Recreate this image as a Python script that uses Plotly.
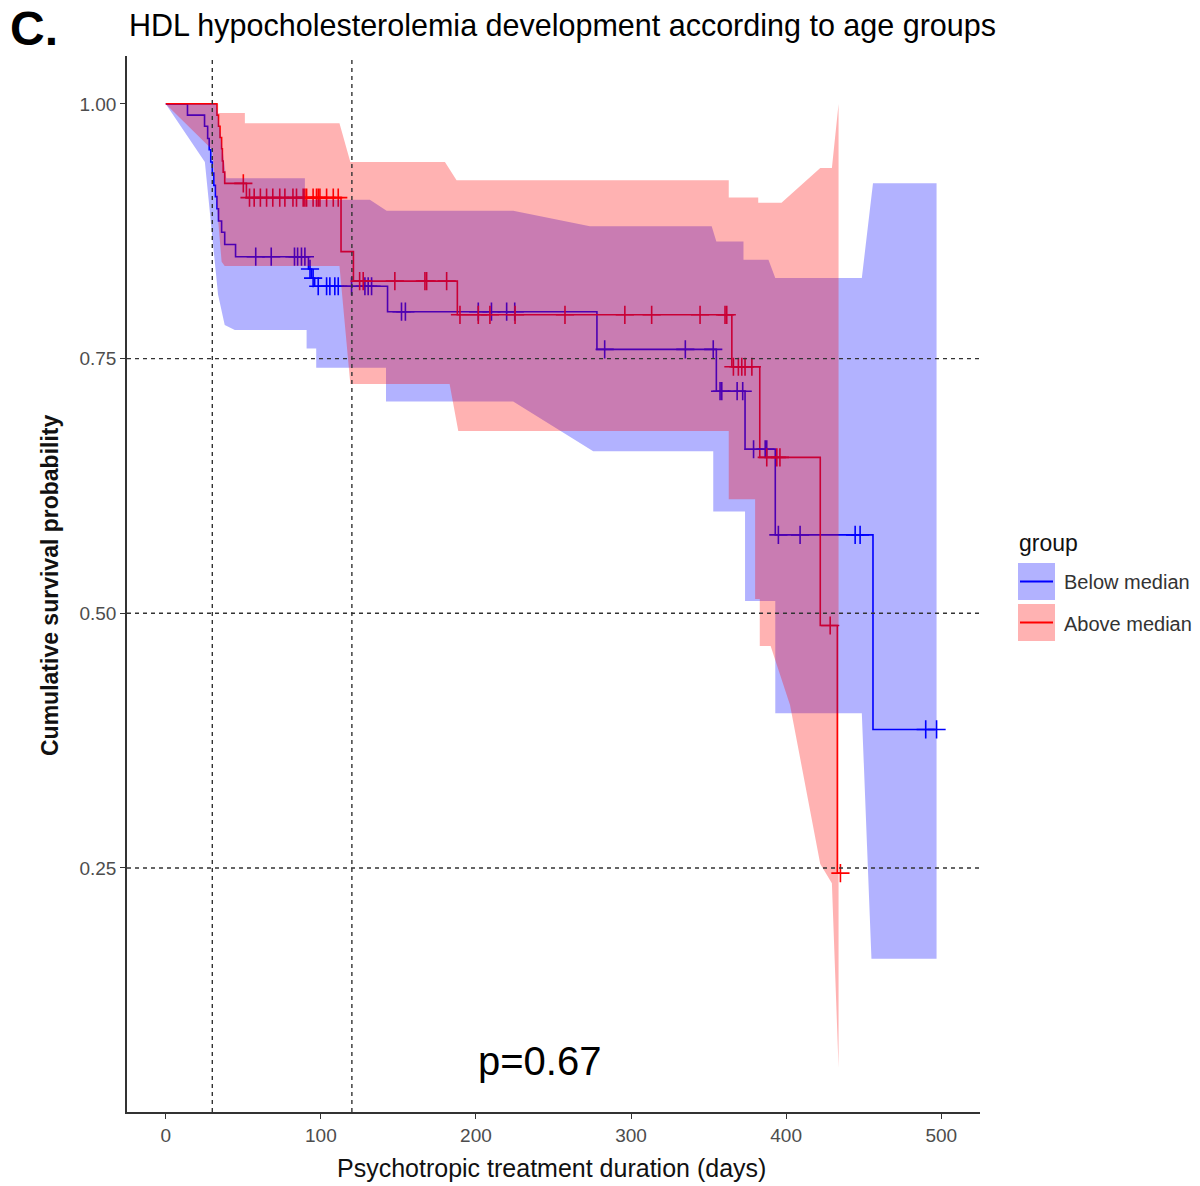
import plotly.graph_objects as go

# ---------------- data ----------------
# Below median (blue) Kaplan-Meier steps
below_t = [0, 14, 25, 27, 28, 29, 30, 31, 32, 33, 34, 36, 38, 45, 92, 94, 96,
           143, 278, 355, 373.5, 393, 456]
below_s = [1.0, 0.989, 0.978, 0.966, 0.955, 0.943, 0.932, 0.920, 0.909, 0.897,
           0.885, 0.874, 0.862, 0.850, 0.838, 0.829, 0.821, 0.796, 0.759, 0.718,
           0.661, 0.577, 0.386]
below_end = 497
below_cens = [58, 68, 83, 85, 87.5, 89.7, 93, 95, 98.3, 103.7, 105.8, 109, 111.2,
              119.8, 128.4, 130.5, 132.7, 152, 154.5, 201.5, 210, 219.8, 225, 283,
              335, 353, 357.4, 358.5, 368.4, 372, 379, 386.5, 387.5, 395, 409,
              444.5, 447.7, 490, 497]

# Above median (red) Kaplan-Meier steps
above_t = [0, 33, 34, 35, 36, 36.5, 37, 38, 52, 113, 121, 188, 365, 383, 422, 433]
above_s = [1.0, 0.989, 0.978, 0.967, 0.956, 0.944, 0.933, 0.922, 0.908, 0.855,
           0.826, 0.793, 0.742, 0.653, 0.488, 0.245]
above_end = 435
above_cens = [50, 54, 57, 61, 65, 69, 73.5, 76.8, 82, 84.3, 88.6, 89.7, 90.8, 95,
              97.2, 98.3, 99.4, 103.7, 108, 111.2, 125, 127.3, 147.7, 167.1, 168.2,
              181.1, 189.7, 201.5, 209, 225.2, 257.4, 296, 313.3, 344.5, 360.6,
              361.7, 366, 369.2, 371.4, 373.5, 377.9, 387.5, 394, 396, 428.4, 435]

# confidence band outlines (time, probability)
below_up_t = [0, 32.7, 39, 89.7, 89.7, 131.6, 142.4, 224, 273.5, 352, 355, 372.5,
              372.5, 388.6, 393, 448.8, 456, 497]
below_up_v = [1.0, 1.0, 0.927, 0.927, 0.906, 0.906, 0.895, 0.895, 0.880, 0.880,
              0.865, 0.865, 0.847, 0.847, 0.829, 0.829, 0.922, 0.922]
below_lo_t = [0, 25.2, 33.7, 38, 44.5, 90.8, 90.8, 97, 97, 142, 142, 224, 275.6,
              353, 353, 373.5, 373.5, 393, 393, 448.8, 455, 497]
below_lo_v = [1.0, 0.943, 0.813, 0.783, 0.778, 0.778, 0.760, 0.760, 0.741, 0.741,
              0.708, 0.708, 0.659, 0.659, 0.600, 0.600, 0.512, 0.512, 0.402, 0.402,
              0.161, 0.161]

above_up_t = [0, 33.8, 33.8, 51, 51, 112, 119, 180, 187.5, 363, 363, 382, 382, 397,
              422, 429.5, 433.8]
above_up_v = [1.0, 1.0, 0.991, 0.991, 0.981, 0.981, 0.943, 0.943, 0.925, 0.925,
              0.908, 0.908, 0.903, 0.903, 0.937, 0.937, 1.0]
above_lo_t = [0, 30, 36, 38, 112, 119, 183, 188.6, 363, 363, 380, 380, 383, 383,
              390, 402.5, 422, 429.5, 433.8]
above_lo_v = [1.0, 0.955, 0.845, 0.841, 0.841, 0.725, 0.725, 0.679, 0.679, 0.612,
              0.612, 0.514, 0.514, 0.468, 0.468, 0.41, 0.254, 0.235, 0.054]

x_ticks = [0, 100, 200, 300, 400, 500]
y_ticks = [0.25, 0.50, 0.75, 1.00]
y_ticklabels = ["0.25", "0.50", "0.75", "1.00"]
ref_h = [0.25, 0.50, 0.75]
ref_v = [30, 120]
groups = ["Below median", "Above median"]
p_text = "p=0.67"

FONT = "Liberation Sans, Arial, sans-serif"
BLUE = "#0000FF"
RED = "#FF0000"
BLUE_F = "rgba(0,0,255,0.3)"
RED_F = "rgba(255,0,0,0.3)"


def step_at(ts, ss, t):
    v = ss[0]
    for ti, si in zip(ts, ss):
        if ti <= t:
            v = si
    return v


fig = go.Figure()

# step lines
for ts, ss, end, col in [(below_t, below_s, below_end, BLUE),
                          (above_t, above_s, above_end, RED)]:
    fig.add_trace(go.Scatter(x=ts + [end], y=ss + [ss[-1]], mode="lines",
                             line=dict(color=col, width=1.6, shape="hv"),
                             showlegend=False, hoverinfo="skip"))
# censor marks
for ts, ss, cens, col in [(below_t, below_s, below_cens, BLUE),
                          (above_t, above_s, above_cens, RED)]:
    fig.add_trace(go.Scatter(x=cens, y=[step_at(ts, ss, c) for c in cens],
                             mode="markers",
                             marker=dict(symbol="cross-thin", size=13,
                                         line=dict(color=col, width=1.6)),
                             showlegend=False, hoverinfo="skip"))
# confidence ribbons (drawn over the lines, blue first then red)
for ut, uv, lt, lv, fc in [(below_up_t, below_up_v, below_lo_t, below_lo_v, BLUE_F),
                           (above_up_t, above_up_v, above_lo_t, above_lo_v, RED_F)]:
    fig.add_trace(go.Scatter(x=ut + lt[::-1], y=uv + lv[::-1], mode="lines",
                             fill="toself", fillcolor=fc, line=dict(width=0),
                             showlegend=False, hoverinfo="skip"))

shapes = []
for h in ref_h:
    shapes.append(dict(type="line", xref="paper", yref="y", x0=0, x1=1, y0=h, y1=h,
                       line=dict(color="#333333", width=1.4, dash="4px,4px")))
for v in ref_v:
    shapes.append(dict(type="line", xref="x", yref="paper", x0=v, x1=v, y0=0, y1=1,
                       line=dict(color="#333333", width=1.4, dash="4px,4px")))

# manual legend (paper coords)
L, R = 127, 980
T, B = 56, 1112
W, H = R - L, B - T


def px(xp):
    return (xp - L) / W


def py(yp):
    return (B - yp) / H


for (y0, y1), fc, lc in [((563, 600), BLUE_F, BLUE), ((604, 641), RED_F, RED)]:
    shapes.append(dict(type="rect", xref="paper", yref="paper", x0=px(1018), x1=px(1055),
                       y0=py(y1), y1=py(y0), fillcolor=fc, line=dict(width=0)))
    ym = (y0 + y1) / 2
    shapes.append(dict(type="line", xref="paper", yref="paper", x0=px(1020), x1=px(1053),
                       y0=py(ym), y1=py(ym), line=dict(color=lc, width=2)))

annotations = [
    dict(text="<b>C.</b>", xref="paper", yref="paper", x=px(8), y=py(29), xanchor="left",
         yanchor="middle", showarrow=False, font=dict(family=FONT, size=48, color="black")),
    dict(text="HDL hypocholesterolemia development according to age groups",
         xref="paper", yref="paper", x=px(127), y=py(25), xanchor="left", yanchor="middle",
         showarrow=False, font=dict(family=FONT, size=30.5, color="#000000")),
    dict(text="Psychotropic treatment duration (days)", xref="paper", yref="paper",
         x=px(551), y=py(1168), xanchor="center", yanchor="middle", showarrow=False,
         font=dict(family=FONT, size=25, color="#111111")),
    dict(text="<b>Cumulative survival probability</b>", xref="paper", yref="paper",
         x=px(50), y=py(586), xanchor="center", yanchor="middle", textangle=-90,
         showarrow=False, font=dict(family=FONT, size=23, color="#111111")),
    dict(text="group", xref="paper", yref="paper", x=px(1017), y=py(543),
         xanchor="left", yanchor="middle", showarrow=False,
         font=dict(family=FONT, size=23, color="#111111")),
    dict(text=groups[0], xref="paper", yref="paper", x=px(1062), y=py(582),
         xanchor="left", yanchor="middle", showarrow=False,
         font=dict(family=FONT, size=20, color="#333333")),
    dict(text=groups[1], xref="paper", yref="paper", x=px(1062), y=py(624),
         xanchor="left", yanchor="middle", showarrow=False,
         font=dict(family=FONT, size=20, color="#333333")),
    dict(text=p_text, xref="x", yref="y", x=241, y=0.061, xanchor="center",
         yanchor="middle", showarrow=False, font=dict(family=FONT, size=40, color="black")),
]

fig.update_layout(
    width=1200, height=1186,
    margin=dict(l=L, r=1200 - R, t=T, b=1186 - B, pad=0),
    paper_bgcolor="white", plot_bgcolor="white",
    showlegend=False,
    shapes=shapes, annotations=annotations,
    font=dict(family=FONT),
    xaxis=dict(range=[-25, 525], tickvals=x_ticks, ticktext=[str(t) for t in x_ticks],
               showgrid=False, zeroline=False, showline=True, linecolor="#333333",
               linewidth=1.6, ticks="outside", ticklen=5, tickcolor="#333333",
               tickwidth=1.2, tickfont=dict(family=FONT, size=19, color="#4D4D4D")),
    yaxis=dict(range=[0.0105, 1.047], tickvals=y_ticks, ticktext=y_ticklabels,
               showgrid=False, zeroline=False, showline=True, linecolor="#333333",
               linewidth=1.6, ticks="outside", ticklen=5, tickcolor="#333333",
               tickwidth=1.2, tickfont=dict(family=FONT, size=19, color="#4D4D4D")),
)

fig.write_html("out.html")
